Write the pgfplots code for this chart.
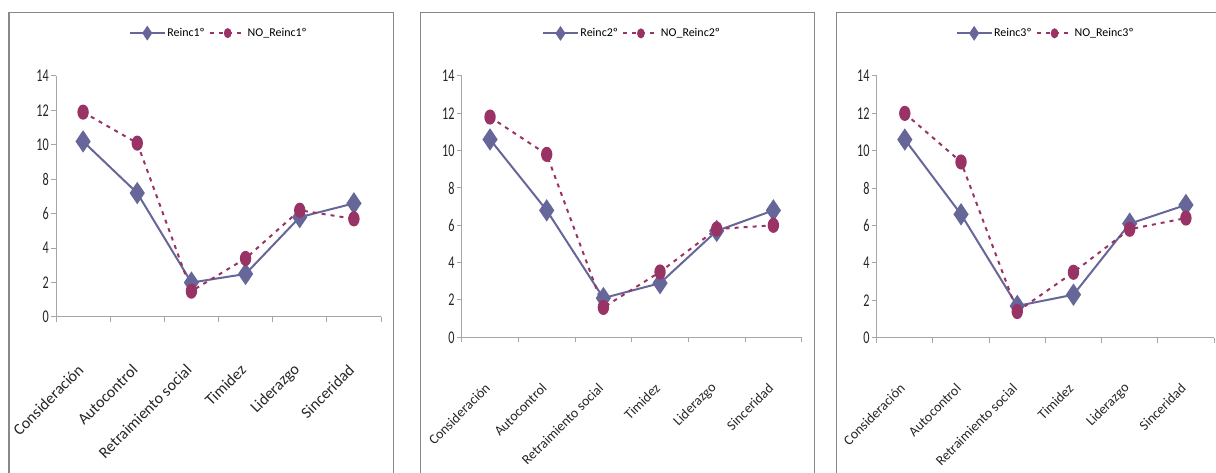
\documentclass[border=0pt]{standalone}
\usepackage{pgfplots}
\pgfplotsset{compat=1.18}
\usepackage{pgfplotstable}
\usepackage{fontspec}
\setmainfont{Carlito}
\newfontfamily\tickfont[FakeStretch=0.68]{Carlito}
\definecolor{reinc}{HTML}{666699}
\definecolor{noreinc}{HTML}{993366}
\definecolor{framegray}{HTML}{898989}
\definecolor{axisgray}{HTML}{A6A6A6}

\pgfplotstableread{
x r n
1 10.2 11.9
2 7.2 10.1
3 2.0 1.5
4 2.5 3.4
5 5.8 6.2
6 6.6 5.7
}\tabA
\pgfplotstableread{
x r n
1 10.6 11.8
2 6.8 9.8
3 2.1 1.6
4 2.9 3.5
5 5.7 5.8
6 6.8 6.0
}\tabB
\pgfplotstableread{
x r n
1 10.6 12.0
2 6.6 9.4
3 1.7 1.4
4 2.3 3.5
5 6.1 5.8
6 7.1 6.4
}\tabC

\pgfplotsset{
  panel/.style={
    scale only axis, anchor=south west, clip=false,
    xmin=0.5, xmax=6.5, ymin=0, ymax=14,
    axis x line*=bottom, axis y line*=left,
    axis line style={axisgray, line width=1bp, -},
    tick style={axisgray, line width=1bp},
    tick align=outside, major tick length=5bp,
    xtick={0.5,1.5,...,6.5}, xticklabels={,,,,,,},
    ytick={0,2,...,14},
    /pgf/number format/assume math mode=true,
    yticklabel style={font=\tickfont\fontsize{18}{18}\selectfont, text=black!85, inner sep=2bp},
    extra x ticks={1,2,3,4,5,6},
    extra x tick labels={Consideración,Autocontrol,Retraimiento social,Timidez,Liderazgo,Sinceridad},
    legend style={draw=none, fill=none, legend columns=2, anchor=center,
      font=\fontsize{12}{12}\selectfont, inner sep=0pt,
      nodes={inner sep=1.5bp},
      /tikz/every even column/.append style={column sep=3bp}},
    legend image code/.code={\draw[mark repeat=2, mark phase=2, ##1, every mark/.append style={scale=0.6}] plot coordinates {(0bp,0bp) (17.5bp,0bp) (35bp,0bp)};},
  },
  rstyle/.style={reinc, line width=2bp, mark=diamond*, mark size=9.5, mark options={solid, xscale=0.9}},
  nstyle/.style={noreinc, line width=2bp, dash pattern=on 4bp off 5bp, mark=*, mark size=4.7, mark options={solid, yscale=1.4}},
}

\begin{document}
\begin{tikzpicture}[x=1bp,y=1bp]
\useasboundingbox (0,0) rectangle (1216,473);
\draw[framegray, line width=1.5bp] (9,-20) -- (9,460.3) -- (393.5,460.3) -- (393.5,-20);
\draw[framegray, line width=1.5bp] (420.7,-20) -- (420.7,460.3) -- (814.7,460.3) -- (814.7,-20);
\draw[framegray, line width=1.5bp] (836.7,-20) -- (836.7,460.3) -- (1230,460.3);

\begin{axis}[panel, at={(56bp,156bp)}, width=325bp, height=241bp,
  extra x tick style={major tick length=0pt, xticklabel style={font=\fontsize{16}{16}\selectfont, text=black!85, yshift=-48bp, rotate=45, anchor=east}},
  legend style={at={(0.5,1.178)}}]
\addplot[rstyle] table[x=x,y=r]{\tabA};
\addplot[nstyle] table[x=x,y=n]{\tabA};
\legend{Reinc1º,NO\_Reinc1º}
\end{axis}

\begin{axis}[panel, at={(461.7bp,135.7bp)}, width=340bp, height=261.3bp,
  extra x tick style={major tick length=0pt, xticklabel style={font=\fontsize{14}{14}\selectfont, text=black!85, yshift=-46bp, rotate=45, anchor=east}},
  legend style={at={(0.5,1.163)}}]
\addplot[rstyle] table[x=x,y=r]{\tabB};
\addplot[nstyle] table[x=x,y=n]{\tabB};
\legend{Reinc2º,NO\_Reinc2º}
\end{axis}

\begin{axis}[panel, at={(876.7bp,135.3bp)}, width=337.3bp, height=261.7bp,
  extra x tick style={major tick length=0pt, xticklabel style={font=\fontsize{14}{14}\selectfont, text=black!85, yshift=-46bp, rotate=45, anchor=east}},
  legend style={at={(0.5,1.163)}}]
\addplot[rstyle] table[x=x,y=r]{\tabC};
\addplot[nstyle] table[x=x,y=n]{\tabC};
\legend{Reinc3º,NO\_Reinc3º}
\end{axis}
\end{tikzpicture}
\end{document}
